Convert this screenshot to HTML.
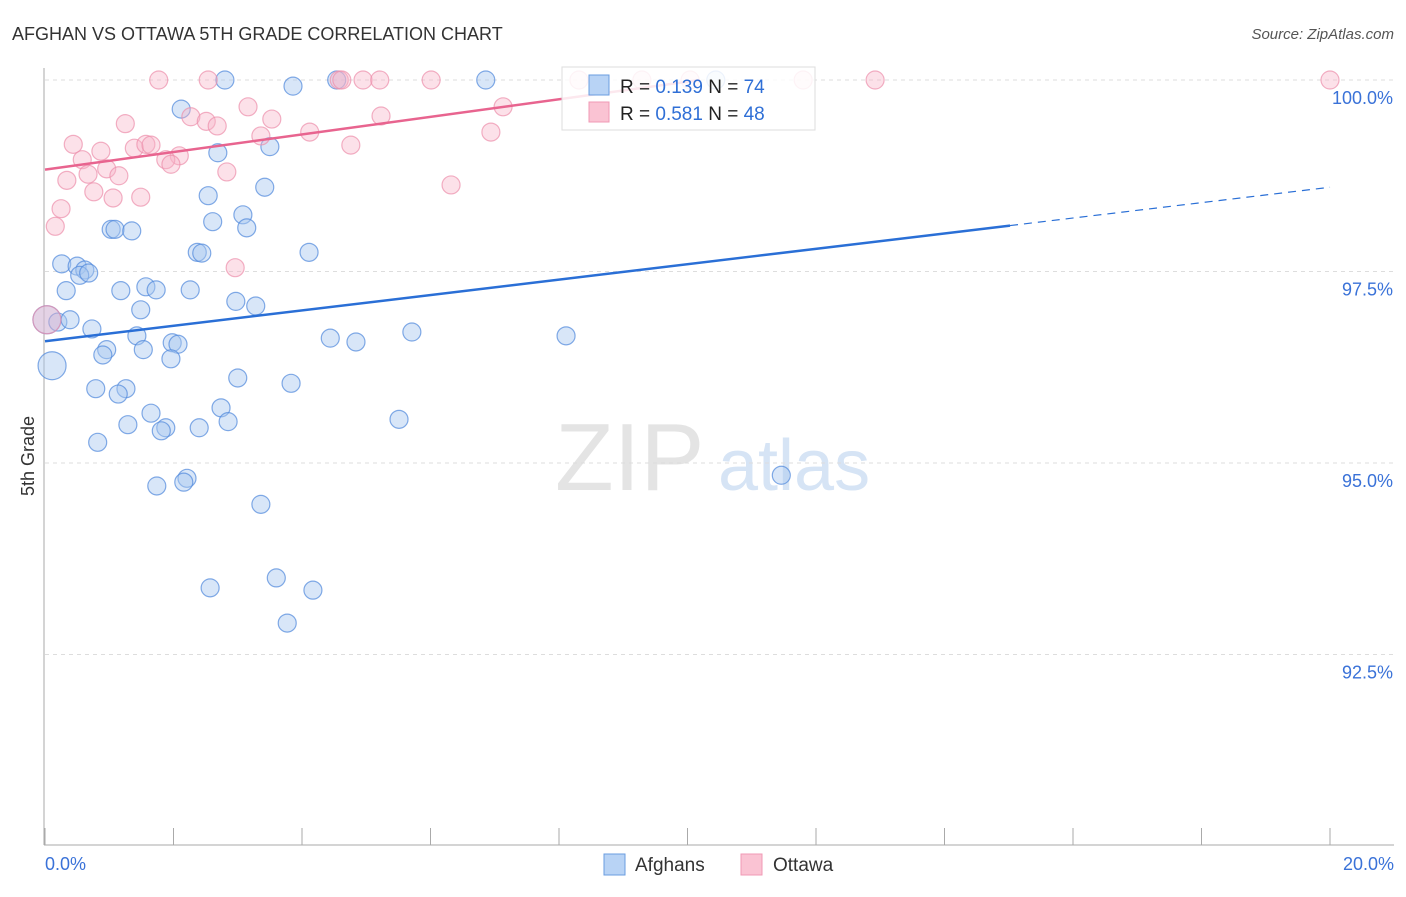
<!DOCTYPE html>
<html><head><meta charset="utf-8"><style>
body{margin:0;background:#fff;font-family:"Liberation Sans",sans-serif;}
svg text{font-family:"Liberation Sans",sans-serif;}
</style></head><body>
<svg id="c" width="1406" height="892" xmlns="http://www.w3.org/2000/svg">
<text x="12" y="40" font-size="18" fill="#333">AFGHAN VS OTTAWA 5TH GRADE CORRELATION CHART</text>
<text x="1394" y="39" font-size="15" fill="#555" font-style="italic" text-anchor="end">Source: ZipAtlas.com</text>
<text x="34" y="456" font-size="18" fill="#333" text-anchor="middle" transform="rotate(-90 34 456)">5th Grade</text>
<text x="555" y="490" font-size="96" fill="#e4e4e4" font-family="Liberation Serif">ZIP</text>
<text x="718" y="490" font-size="72" fill="#d6e4f5">atlas</text>
<g id="grid"></g><g id="axes"></g><g id="pts"></g><g id="lines"></g>
<g>
<rect x="562" y="67" width="253" height="63" fill="#fff" fill-opacity="0.85" stroke="#ddd"/>
<rect x="589" y="75" width="20" height="20" fill="#b8d3f5" stroke="#6a9de0"/>
<rect x="589" y="102" width="20" height="20" fill="#fac3d3" stroke="#f09ab4"/>
<text x="620" y="93" font-size="19" fill="#222">R = <tspan fill="#2f6fd6">0.139</tspan>   N = <tspan fill="#2f6fd6">74</tspan></text>
<text x="620" y="120" font-size="19" fill="#222">R = <tspan fill="#2f6fd6">0.581</tspan>   N = <tspan fill="#2f6fd6">48</tspan></text>
</g>
<g>
<rect x="604" y="854" width="21" height="21" fill="#b8d3f5" stroke="#6a9de0"/>
<text x="635" y="871" font-size="19" fill="#333">Afghans</text>
<rect x="741" y="854" width="21" height="21" fill="#fac3d3" stroke="#f09ab4"/>
<text x="773" y="871" font-size="19" fill="#333">Ottawa</text>
</g>
</svg>
<script>
const yTicks=[100,97.5,95,92.5];
const yTickLabels=["100.0%","97.5%","95.0%","92.5%"];
const xTickValues=[0,2,4,6,8,10,12,14,16,18,20];
const xEndLabels=["0.0%","20.0%"];
const blueX=[2.80,3.86,4.54,6.86,10.44,2.12,2.69,3.50,3.42,2.54,3.08,2.61,3.14,1.03,1.09,1.35,2.37,2.44,4.11,0.26,0.50,0.62,0.54,0.68,0.33,1.18,1.57,1.73,2.26,2.97,3.28,1.49,0.03,0.20,0.39,0.73,1.43,4.44,4.84,5.71,8.11,1.98,2.07,0.96,0.90,1.53,1.96,0.11,3.00,3.83,0.79,1.26,1.14,2.74,1.65,5.51,1.29,1.88,1.81,2.40,2.85,0.82,2.21,2.16,1.74,11.46,3.36,3.60,2.57,4.17,3.77];
const blueY=[100,99.92,100,100,100,99.62,99.05,99.13,98.60,98.49,98.24,98.15,98.07,98.05,98.05,98.03,97.75,97.74,97.75,97.60,97.57,97.52,97.45,97.48,97.25,97.25,97.30,97.26,97.26,97.11,97.05,97.00,96.87,96.84,96.87,96.75,96.66,96.63,96.58,96.71,96.66,96.57,96.55,96.48,96.41,96.48,96.36,96.27,96.11,96.04,95.97,95.97,95.90,95.72,95.65,95.57,95.50,95.46,95.42,95.46,95.54,95.27,94.80,94.75,94.70,94.84,94.46,93.50,93.37,93.34,92.91];
const pinkX=[1.77,2.54,4.58,4.62,4.95,5.21,6.01,8.31,9.29,10.04,11.80,12.92,20.0,3.16,2.27,2.51,2.68,3.53,1.25,5.23,7.13,6.94,3.36,4.12,0.44,0.87,1.39,1.57,1.65,2.09,1.88,1.96,0.58,2.83,4.76,0.34,0.67,0.96,1.15,0.76,1.06,1.49,0.25,0.16,2.96,6.32,0.03];
const pinkY=[100,100,100,100,100,100,100,100,100,100,100,100,100,99.65,99.52,99.46,99.40,99.49,99.43,99.53,99.65,99.32,99.27,99.32,99.16,99.07,99.11,99.16,99.15,99.01,98.96,98.90,98.96,98.80,99.15,98.69,98.77,98.84,98.75,98.54,98.46,98.47,98.32,98.09,97.55,98.63,96.87];
const blueTrend=[0,96.59,20,98.60];
const blueSolidEnd=15.02;
const pinkTrend=[0,98.83,10.19,100];
const bigBlue=[32,47];const bigPink=[46];
const NS="http://www.w3.org/2000/svg";
const X=v=>45+v*64.25, Y=v=>80+(100-v)*76.6;
function mk(p,t,a){const e=document.createElementNS(NS,t);for(const k in a)e.setAttribute(k,a[k]);p.appendChild(e);return e;}
const grid=document.getElementById('grid'),axes=document.getElementById('axes'),pts=document.getElementById('pts'),lines=document.getElementById('lines');
yTicks.forEach((t,i)=>{
 const l=mk(grid,'line',{x1:45,x2:1394,y1:Y(t),y2:Y(t),stroke:'#ddd','stroke-dasharray':'4,4'});
 
 
 const tx=mk(axes,'text',{x:1393,y:Y(t)+24,'font-size':18,fill:'#3a72d8','text-anchor':'end'});
 tx.textContent=yTickLabels[i];
 
 
});
const ya=mk(axes,'line',{x1:44,x2:44,y1:68,y2:845,stroke:'#aaa'});


const xa=mk(axes,'line',{x1:44,x2:1394,y1:845,y2:845,stroke:'#aaa'});


xTickValues.forEach(v=>{
 const t=mk(axes,'line',{x1:X(v),x2:X(v),y1:828,y2:845,stroke:'#aaa'});
 
 
});
[[0,'start',45],[20,'end',1394]].forEach((d,i)=>{
 const tx=mk(axes,'text',{x:d[2],y:870,'font-size':18,fill:'#3a72d8','text-anchor':d[1]});
 tx.textContent=xEndLabels[i];
 
 
});
blueX.forEach((v,i)=>{
 const c=mk(pts,'circle',{cx:X(v),cy:Y(blueY[i]),r:bigBlue.includes(i)?14:9,fill:'#a9c8f0','fill-opacity':0.45,stroke:'#4f88dc','stroke-opacity':0.7,'stroke-width':1.2});
 
 
});
pinkX.forEach((v,i)=>{
 const c=mk(pts,'circle',{cx:X(v),cy:Y(pinkY[i]),r:bigPink.includes(i)?14:9,fill:'#f7b3c7','fill-opacity':0.4,stroke:'#ec8fab','stroke-opacity':0.7,'stroke-width':1.2});
 
 
});
const bs=(blueTrend[3]-blueTrend[1])/(blueTrend[2]-blueTrend[0]);
const b1=mk(lines,'line',{x1:X(blueTrend[0]),y1:Y(blueTrend[1]),x2:X(blueSolidEnd),y2:Y(blueTrend[1]+bs*blueSolidEnd),stroke:'#2a6fd6','stroke-width':2.5});


const b2=mk(lines,'line',{x1:X(blueSolidEnd),y1:Y(blueTrend[1]+bs*blueSolidEnd),x2:X(blueTrend[2]),y2:Y(blueTrend[3]),stroke:'#2a6fd6','stroke-width':1.2,'stroke-dasharray':'8,6'});


const p1=mk(lines,'line',{x1:X(pinkTrend[0]),y1:Y(pinkTrend[1]),x2:X(pinkTrend[2]),y2:Y(pinkTrend[3]),stroke:'#e8648f','stroke-width':2.5});


</script>
</body></html>
